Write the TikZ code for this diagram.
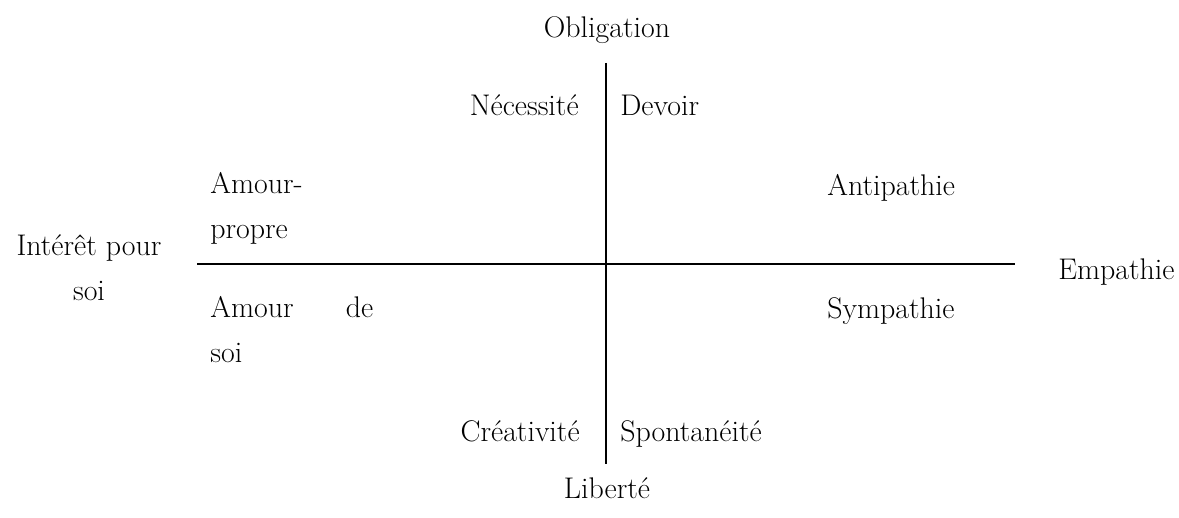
\documentclass[tikz,border=0pt]{standalone}
\usepackage{tikz}
\newcommand{\drawaxis}{\draw[line width=1.1pt]}
\tikzset{lbl/.style={font=\fontsize{17}{25.6}\selectfont, inner sep=0pt, align=left}}
\begin{document}
\begin{tikzpicture}[x=0.02cm,y=-0.02cm]
\useasboundingbox (0,0) rectangle (1179,517);
\coordinate (top) at (606,63);
\coordinate (bottom) at (606,464);
\coordinate (left) at (197,264);
\coordinate (right) at (1015,264);
\drawaxis (top)--(bottom);
\drawaxis (left)--(right);
% poles
\node[lbl,anchor=base] (obligation) at (607,38) {Obligation};
\node[lbl,anchor=base] (liberte) at (607,498) {Libert\'e};
\node[lbl,anchor=base,align=center] (interet) at (89,300) {Int\'er\^et pour\\soi};
\node[lbl,anchor=base west] (empathie) at (1058,279) {Empathie};
% quadrants
\node[lbl,anchor=base east] (necessite) at (579,115) {N\'ecessit\'e};
\node[lbl,anchor=base west] (devoir) at (620,115) {Devoir};
\node[lbl,anchor=base east] (creativite) at (580,441) {Cr\'eativit\'e};
\node[lbl,anchor=base west] (spontaneite) at (620,441) {Spontan\'eit\'e};
\node[lbl,anchor=base west] (antipathie) at (827,195) {Antipathie};
\node[lbl,anchor=base west] (sympathie) at (827,318) {Sympathie};
\node[lbl,anchor=base west] (amourpropre) at (210,238) {Amour-\\propre};
\node[lbl,anchor=base west] (amoursoi) at (210,362) {\makebox[3.26cm][s]{Amour de}\\soi};
\end{tikzpicture}
\end{document}
